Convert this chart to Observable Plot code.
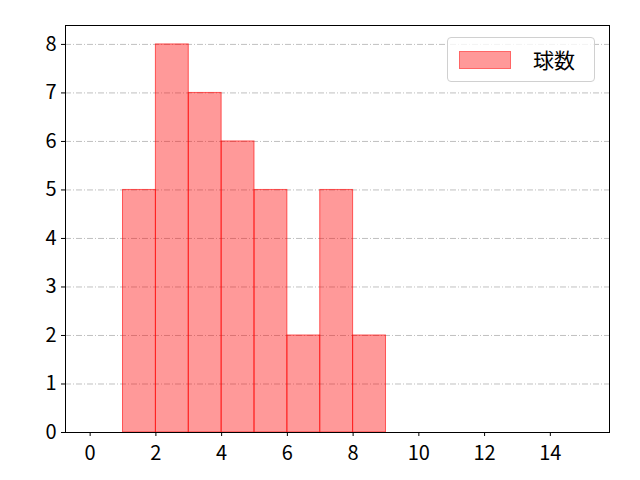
<!DOCTYPE html>
<html><head><meta charset="utf-8">
<script src="https://cdn.jsdelivr.net/npm/d3@7"></script>
<script src="https://cdn.jsdelivr.net/npm/@observablehq/plot@0.6"></script>
<style>
body{margin:0;background:#fff;}
#wrap{position:relative;width:640px;height:480px;font-family:"Noto Sans CJK JP","DejaVu Sans",sans-serif;}
#legend{position:absolute;left:447px;top:37px;width:148px;height:45px;box-sizing:border-box;border:1px solid #d0d0d0;border-radius:4px;background:rgba(255,255,255,0.8);}
#legend .sw{position:absolute;left:11px;top:13px;width:52px;height:18px;background:#ff9999;border:1px solid #ff6666;box-sizing:border-box;}
#legend .lb{position:absolute;left:85px;top:6px;font-size:21px;color:#000;line-height:30px;}
</style></head>
<body><div id="wrap"><div id="legend"><div class="sw"></div><div class="lb">球数</div></div></div>
<script>
const binStart = [1, 2, 3, 4, 5, 6, 7, 8];
const binEnd = [2, 3, 4, 5, 6, 7, 8, 9];
const counts = [5, 8, 7, 6, 5, 2, 5, 2];
const xTicks = [0, 2, 4, 6, 8, 10, 12, 14];
const yTicks = [0, 1, 2, 3, 4, 5, 6, 7, 8];
const gridY = [1, 2, 3, 4, 5, 6, 7, 8];
const seriesName = "球数";

const data = binStart.map((s, i) => ({x1: s, x2: binEnd[i], y: counts[i]}));

const chart = Plot.plot({
  width: 640, height: 480,
  marginLeft: 65, marginRight: 31, marginTop: 25, marginBottom: 48,
  style: {fontFamily: '"Noto Sans CJK JP","DejaVu Sans",sans-serif', fontSize: "20px", background: "transparent"},
  x: {domain: [-0.75, 15.8], label: null},
  y: {domain: [0, 8.39], label: null},
  marks: [
    Plot.ruleY(gridY, {stroke: "#b0b0b0", strokeWidth: 0.8, strokeDasharray: "6,2,1,2"}),
    Plot.rectY(data, {x1: "x1", x2: "x2", y: "y", fill: "#ff0000", fillOpacity: 0.4, stroke: "#ff0000", strokeOpacity: 0.6, strokeWidth: 1, inset: 0}),
    Plot.frame({stroke: "#000", strokeWidth: 1}),
    Plot.axisX({ticks: xTicks, tickSize: 4, tickPadding: 9, fontSize: 20, stroke: "#000", color: "#000", tickFormat: d => String(d)}),
    Plot.axisY({ticks: yTicks, tickSize: 4, tickPadding: 5, fontSize: 20, stroke: "#000", color: "#000", tickFormat: d => String(d)})
  ]
});
document.getElementById("wrap").prepend(chart);
chart.style.position = "absolute";
chart.style.left = "0";
chart.style.top = "0";
document.getElementById("legend").querySelector(".lb").textContent = seriesName;
</script></body></html>
